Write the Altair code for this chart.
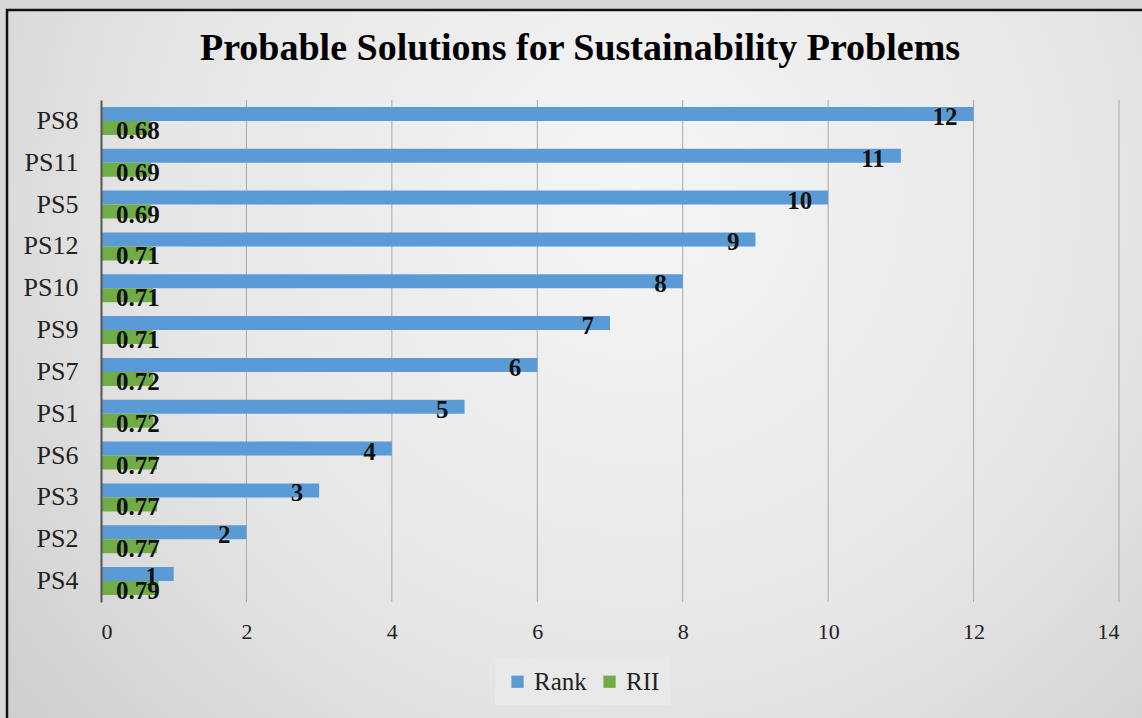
import altair as alt
import pandas as pd

categories = ["PS8", "PS11", "PS5", "PS12", "PS10", "PS9", "PS7", "PS1", "PS6", "PS3", "PS2", "PS4"]
rank_values = [12, 11, 10, 9, 8, 7, 6, 5, 4, 3, 2, 1]
rii_values = [0.68, 0.69, 0.69, 0.71, 0.71, 0.71, 0.72, 0.72, 0.77, 0.77, 0.77, 0.79]
series_names = ["Rank", "RII"]
x_ticks = [0, 2, 4, 6, 8, 10, 12, 14]
grid_ticks = [2, 4, 6, 8, 10, 12, 14]

rows = []
for c, r, v in zip(categories, rank_values, rii_values):
    rows.append({"category": c, "series": "Rank", "value": r, "label": str(r)})
    rows.append({"category": c, "series": "RII", "value": v, "label": f"{v:.2f}"})
df = pd.DataFrame(rows)
grid_df = pd.DataFrame({"tick": grid_ticks})

FONT = "Liberation Serif, Times New Roman, serif"

bg = alt.Chart(pd.DataFrame({"a": [0]})).mark_rect(
    fill={
        "gradient": "radial",
        "x1": 0.55, "y1": 0.35, "r1": 0.0,
        "x2": 0.55, "y2": 0.35, "r2": 0.75,
        "stops": [
            {"offset": 0.0, "color": "#f5f5f5"},
            {"offset": 0.55, "color": "#e6e6e6"},
            {"offset": 1.0, "color": "#cbcbcb"},
        ],
    },
    stroke="#111111",
    strokeWidth=2.5,
).encode(
    x=alt.value(-94), x2=alt.value(1050), y=alt.value(-90), y2=alt.value(630)
)

xscale = alt.Scale(domain=[0, 14], nice=False, zero=True)
yscale = alt.Scale(paddingInner=0.33, paddingOuter=0.165)

grid = alt.Chart(grid_df).mark_rule(color="#a9a9a9", strokeWidth=1).encode(
    x=alt.X("tick:Q", scale=xscale),
    y=alt.value(0),
    y2=alt.value(502),
)

color = alt.Color(
    "series:N",
    sort=series_names,
    scale=alt.Scale(domain=series_names, range=["#5b9bd5", "#70ad47"]),
    legend=alt.Legend(
        title=None,
        orient="none",
        legendX=394,
        legendY=559,
        direction="horizontal",
        symbolType="square",
        symbolSize=150,
        symbolStrokeWidth=0,
        labelFont=FONT,
        labelFontSize=25,
        labelColor="#222222",
        fillColor="#e9e9e9",
        padding=10,
        columnPadding=10,
        labelOffset=4,
    ),
)

y_enc = alt.Y(
    "category:N",
    sort=categories,
    scale=yscale,
    axis=alt.Axis(
        title=None,
        ticks=False,
        domain=True,
        domainColor="#555555",
        domainWidth=2,
        labelFont=FONT,
        labelFontSize=26,
        labelColor="#222222",
        labelPadding=23,
        grid=False,
        zindex=1,
    ),
)
yoff = alt.YOffset("series:N", sort=series_names, scale=alt.Scale(domain=series_names, paddingInner=0, paddingOuter=0))

bars = alt.Chart(df).mark_bar().encode(
    y=y_enc,
    yOffset=yoff,
    x=alt.X(
        "value:Q",
        scale=xscale,
        axis=alt.Axis(
            title=None,
            values=x_ticks,
            format="d",
            grid=False,
            domain=False,
            ticks=False,
            labelFont=FONT,
            labelFontSize=22,
            labelColor="#222222",
            labelPadding=19,
            zindex=1,
        ),
    ),
    color=color,
)

rank_text = alt.Chart(df).transform_filter(alt.datum.series == "Rank").mark_text(
    align="right", baseline="middle", dx=-16, dy=3, font=FONT, fontSize=25, fontWeight="bold", color="#111111"
).encode(
    y=alt.Y("category:N", sort=categories, scale=yscale),
    yOffset=yoff,
    x=alt.X("value:Q", scale=xscale),
    text="label:N",
)

rii_text = alt.Chart(df).transform_filter(alt.datum.series == "RII").transform_calculate(
    zero="0"
).mark_text(
    align="left", baseline="middle", dx=15, dy=3, font=FONT, fontSize=25, fontWeight="bold", color="#111111"
).encode(
    y=alt.Y("category:N", sort=categories, scale=yscale),
    yOffset=yoff,
    x=alt.X("zero:Q", scale=xscale),
    text="label:N",
)

chart = alt.layer(bg, grid, bars, rank_text, rii_text).properties(
    width=1018,
    height=502,
    title=alt.TitleParams(
        "Probable Solutions for Sustainability Problems",
        font=FONT,
        fontSize=38,
        fontWeight="bold",
        color="#000000",
        anchor="middle",
        frame="group",
        dx=-30,
        baseline="alphabetic",
        offset=-89,
    ),
    autosize=alt.AutoSizeParams(type="none"),
    padding={"left": 101, "top": 100, "right": 23, "bottom": 116},
).configure_view(stroke=None).configure(background="#d8d8d8")

chart.save("out.html", embed_options={"renderer": "svg", "actions": False})
